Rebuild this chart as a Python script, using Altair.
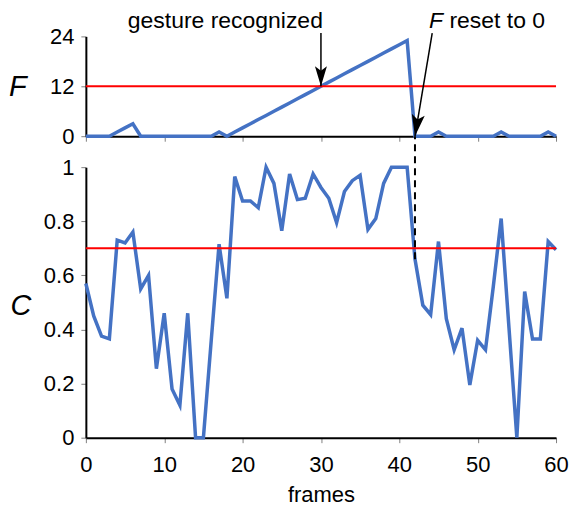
import altair as alt
import pandas as pd

# ---- data ----
frames = list(range(61))
F_values = [0, 0, 0, 0, 1, 2, 3, 0, 0, 0,
            0, 0, 0, 0, 0, 0, 0, 1, 0, 1,
            2, 3, 4, 5, 6, 7, 8, 9, 10, 11,
            12, 13, 14, 15, 16, 17, 18, 19, 20, 21,
            22, 23, 0, 0, 0, 1, 0, 0, 0, 0,
            0, 0, 0, 1, 0, 0, 0, 0, 0, 1,
            0]
C_values = [0.57, 0.45, 0.375, 0.365, 0.73, 0.72, 0.76, 0.55, 0.60, 0.255,
            0.46, 0.18, 0.12, 0.46, 0.0, 0.0, 0.36, 0.715, 0.515, 0.965,
            0.875, 0.875, 0.85, 1.0, 0.94, 0.765, 0.975, 0.88, 0.885, 0.975,
            0.925, 0.885, 0.795, 0.91, 0.95, 0.97, 0.77, 0.81, 0.94, 1.0,
            1.0, 1.0, 0.66, 0.49, 0.455, 0.725, 0.44, 0.325, 0.405, 0.195,
            0.36, 0.325, 0.56, 0.81, 0.405, 0.0, 0.54, 0.365, 0.365, 0.725,
            0.695]
F_threshold = 12
C_threshold = 0.7
F_ticks = [0, 12, 24]
C_ticks = [0, 0.2, 0.4, 0.6, 0.8, 1]
x_ticks = [0, 10, 20, 30, 40, 50, 60]

recognized_frame = 30
reset_frame = 42

# annotation anchors (data units)
text_F_level = 25.9
arrow_top_F = 24.8
gesture_text = ["gesture recognized"]
gesture_text_x = [17.8]
reset_italic = ["F"]
reset_italic_x = [43.8]
reset_rest = ["reset to 0"]
reset_rest_x = [46.4]
reset_arrow_top_x = 44.2

FONT = "Liberation Sans"
BLUE = "#4472C4"
RED = "#FF0000"
W = 471

df = pd.DataFrame({"frame": frames, "F": F_values, "C": C_values})

xscale = alt.Scale(domain=[0, 60], nice=False, zero=False)

# ---------------- top panel (F) ----------------
x_top = alt.X("frame:Q", scale=xscale,
              axis=alt.Axis(values=x_ticks, labels=False, title=None))
y_top = alt.Y("F:Q", scale=alt.Scale(domain=[0, 24], nice=False),
              axis=alt.Axis(values=F_ticks, title="F", titleFontStyle="italic",
                            titleFontSize=29, titleFontWeight="normal",
                            titleAngle=0, titleAlign="left", titleBaseline="middle",
                            titleX=-77.5, titleY=50))

f_line = alt.Chart(df).mark_line(color=BLUE, strokeWidth=3.5).encode(x=x_top, y=y_top)
f_thr = alt.Chart(pd.DataFrame({"F": [F_threshold]})).mark_rule(
    color=RED, strokeWidth=2).encode(y="F:Q")

arrow_head_path = "M0,0 L-0.3,-1 L0,-0.78 L0.3,-1 Z"

# vertical arrow to recognition point
rec_df = pd.DataFrame({"frame": [recognized_frame], "F": [F_values[recognized_frame]],
                       "F2": [arrow_top_F]})
rec_shaft = alt.Chart(rec_df).mark_rule(color="black", strokeWidth=1.5).encode(
    x="frame:Q", y="F:Q", y2="F2:Q")
rec_head = alt.Chart(rec_df).mark_point(
    shape=arrow_head_path, filled=True, color="black", size=1600, opacity=1,
    strokeWidth=0).encode(x="frame:Q", y="F:Q")

# diagonal arrow to reset point
res_df = pd.DataFrame({"frame": [reset_frame], "F": [F_values[reset_frame]],
                       "frame2": [reset_arrow_top_x], "F2": [arrow_top_F]})
res_shaft = alt.Chart(res_df).mark_rule(color="black", strokeWidth=1.5).encode(
    x="frame:Q", y="F:Q", x2="frame2:Q", y2="F2:Q")
res_head = alt.Chart(res_df).mark_point(
    shape=arrow_head_path, filled=True, color="black", size=1900, opacity=1,
    strokeWidth=0, angle=8.7).encode(x="frame:Q", y="F:Q")

txt1 = alt.Chart(pd.DataFrame({"frame": gesture_text_x, "F": [text_F_level],
                               "t": gesture_text})).mark_text(
    font=FONT, fontSize=23, align="center", baseline="alphabetic", color="black"
).encode(x="frame:Q", y="F:Q", text="t:N")
txt2 = alt.Chart(pd.DataFrame({"frame": reset_italic_x, "F": [text_F_level],
                               "t": reset_italic})).mark_text(
    font=FONT, fontSize=23, fontStyle="italic", align="left", baseline="alphabetic",
    color="black").encode(x="frame:Q", y="F:Q", text="t:N")
txt3 = alt.Chart(pd.DataFrame({"frame": reset_rest_x, "F": [text_F_level],
                               "t": reset_rest})).mark_text(
    font=FONT, fontSize=23, align="left", baseline="alphabetic", color="black"
).encode(x="frame:Q", y="F:Q", text="t:N")

top = alt.layer(f_line, f_thr, rec_shaft, rec_head, res_shaft, res_head,
                txt1, txt2, txt3).properties(width=W, height=100)

# ---------------- bottom panel (C) ----------------
x_bot = alt.X("frame:Q", scale=xscale,
              axis=alt.Axis(values=x_ticks, title="frames", titleFontSize=22,
                            titleFontWeight="normal", titlePadding=9,
                            labelPadding=12, labelFlush=False))
y_bot = alt.Y("C:Q", scale=alt.Scale(domain=[0, 1], nice=False),
              axis=alt.Axis(values=C_ticks, format="~g", title="C",
                            titleFontStyle="italic", titleFontSize=29,
                            titleFontWeight="normal", titleAngle=0,
                            titleAlign="left", titleBaseline="middle",
                            titleX=-76, titleY=139))

c_line = alt.Chart(df).mark_line(color=BLUE, strokeWidth=3.5).encode(x=x_bot, y=y_bot)
c_thr = alt.Chart(pd.DataFrame({"C": [C_threshold]})).mark_rule(
    color=RED, strokeWidth=2).encode(y="C:Q")
dash_df = pd.DataFrame({"frame": [reset_frame], "C": [C_values[reset_frame]]})
dash = alt.Chart(dash_df).mark_rule(color="black", strokeWidth=2,
                                    strokeDash=[7, 5]).encode(
    x="frame:Q", y="C:Q", y2=alt.value(-31))

bottom = alt.layer(c_line, dash, c_thr).properties(width=W, height=271)

chart = alt.vconcat(top, bottom, spacing=31, bounds="flush").resolve_scale(
    y="independent"
).properties(
    padding={"left": 0, "top": 2, "right": 0, "bottom": 0}
).configure_view(stroke=None).configure_axis(
    grid=False, domainColor="black", domainWidth=2, tickColor="#808080",
    tickWidth=1, tickSize=5, labelFont=FONT, labelFontSize=22, labelColor="black",
    labelPadding=7, titleFont=FONT, titleColor="black", labelFlush=False
)

chart.save("out.html", embed_options={"renderer": "svg", "actions": False})
